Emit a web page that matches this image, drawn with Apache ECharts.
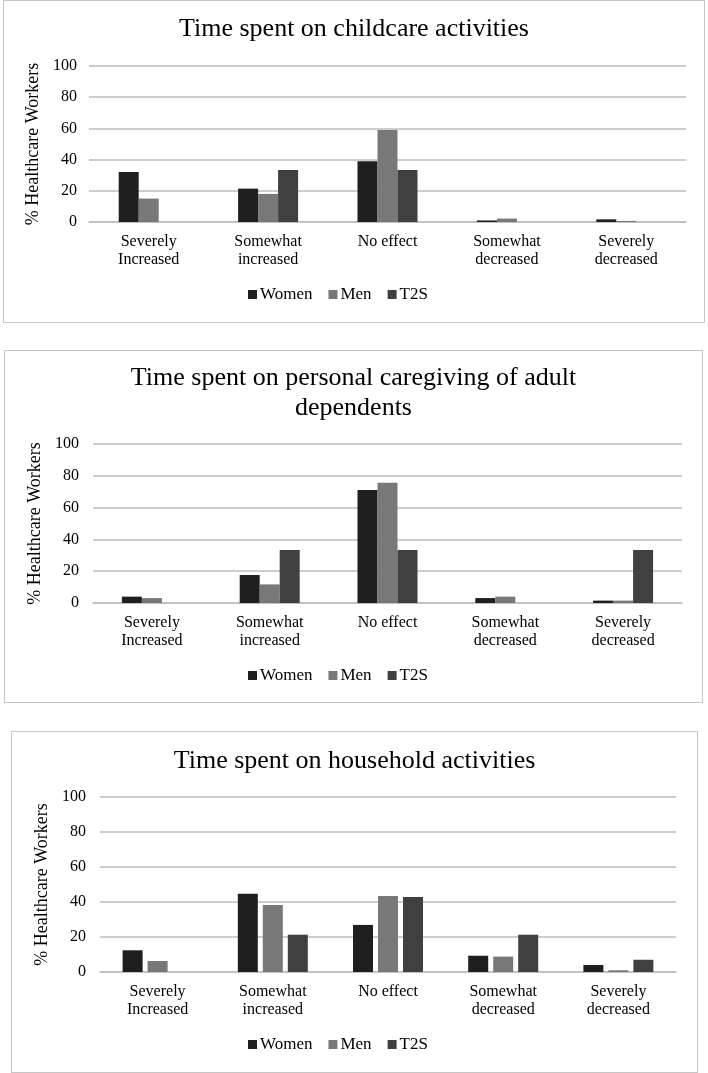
<!DOCTYPE html>
<html>
<head>
<meta charset="utf-8">
<script src="https://cdn.jsdelivr.net/npm/echarts@6/dist/echarts.min.js"></script>
<style>
  html, body { margin: 0; padding: 0; background: #fff; }
  body { width: 708px; height: 1073px; position: relative; overflow: hidden; }
  .box { position: absolute; border: 1px solid #c6c6c6; box-sizing: border-box; }
  .chart { position: absolute; left: 0; top: 0; width: 100%; height: 100%; }
</style>
</head>
<body>
<div class="box" id="b1" style="left:3px; top:0px; width:702px; height:323px;"><div class="chart" id="c1"></div></div>
<div class="box" id="b2" style="left:4px; top:350px; width:699px; height:353px;"><div class="chart" id="c2"></div></div>
<div class="box" id="b3" style="left:11px; top:731px; width:687px; height:342px;"><div class="chart" id="c3"></div></div>
<script>
// ---- data ----
const categories = ['Severely\nIncreased', 'Somewhat\nincreased', 'No effect', 'Somewhat\ndecreased', 'Severely\ndecreased'];
const seriesNames = ['Women', 'Men', 'T2S'];
const yTicks = { min: 0, max: 100, interval: 20 };
const yAxisTitle = '% Healthcare Workers';

const childcareTitle = 'Time spent on childcare activities';
const childcareWomen = [32, 21.4, 39, 1, 1.7];
const childcareMen   = [15, 18, 59, 2.2, 0.7];
const childcareT2S   = [0, 33.3, 33.3, 0, 0];

const caregivingTitle = 'Time spent on personal caregiving of adult\ndependents';
const caregivingWomen = [4, 17.6, 71, 3.1, 1.5];
const caregivingMen   = [3.1, 11.7, 75.7, 4, 1.5];
const caregivingT2S   = [0, 33.3, 33.3, 0, 33.3];

const householdTitle = 'Time spent on household activities';
const householdWomen = [12.4, 44.7, 26.9, 9.3, 4];
const householdMen   = [6.3, 38.3, 43.4, 8.8, 1];
const householdT2S   = [0, 21.3, 42.9, 21.3, 7];

// ---- styles ----
const FONT = '"Liberation Serif", "Times New Roman", serif';
const colors = ['#1f1f1f', '#787878', '#404040'];

function makeOption(cfg) {
  const values = cfg.values;
  return {
    animation: false,
    textStyle: { fontFamily: FONT },
    title: {
      text: cfg.title, left: 'center', top: cfg.titleTop, padding: 0,
      textStyle: { fontFamily: FONT, fontSize: 26, fontWeight: 'normal', color: '#000', lineHeight: 30 }
    },
    legend: {
      data: seriesNames, left: cfg.legendLeft, top: cfg.legendTop, padding: 0,
      icon: 'rect', itemWidth: 9, itemHeight: 9, itemGap: 16,
      textStyle: { fontFamily: FONT, fontSize: 17, color: '#000', padding: [0, 0, 0, -2] }
    },
    grid: { left: cfg.grid[0], top: cfg.grid[1], width: cfg.grid[2], height: cfg.grid[3], containLabel: false },
    xAxis: {
      type: 'category', data: categories,
      axisLine: { lineStyle: { color: '#bdbdbd', width: 1.5 } },
      axisTick: { show: false },
      axisLabel: { interval: 0, fontFamily: FONT, fontSize: 16, color: '#000', lineHeight: 18, margin: 11 }
    },
    yAxis: {
      type: 'value', min: yTicks.min, max: yTicks.max, interval: yTicks.interval,
      name: yAxisTitle, nameLocation: 'middle', nameGap: cfg.nameGap, nameRotate: 90,
      nameTextStyle: { fontFamily: FONT, fontSize: 18, color: '#000' },
      axisLine: { show: false }, axisTick: { show: false },
      axisLabel: { fontFamily: FONT, fontSize: 16, color: '#000', margin: cfg.labelMargin },
      splitLine: { lineStyle: { color: '#bdbdbd', width: 1.5 } }
    },
    series: seriesNames.map((n, i) => ({
      name: n, type: 'bar', data: values[i],
      barWidth: 20, barGap: cfg.barGap,
      itemStyle: { color: colors[i] }
    }))
  };
}

const c1 = echarts.init(document.getElementById('c1'), null, { renderer: 'canvas' });
c1.setOption(makeOption({
  title: childcareTitle, titleTop: 13,
  values: [childcareWomen, childcareMen, childcareT2S],
  grid: [85, 65, 597, 156], legendLeft: 244, legendTop: 285,
  nameGap: 42, labelMargin: 12, barGap: '0%'
}));

const c2 = echarts.init(document.getElementById('c2'), null, { renderer: 'canvas' });
c2.setOption(makeOption({
  title: caregivingTitle, titleTop: 12,
  values: [caregivingWomen, caregivingMen, caregivingT2S],
  grid: [88, 93, 589, 159], legendLeft: 243, legendTop: 316,
  nameGap: 42, labelMargin: 14, barGap: '0%'
}));

const c3 = echarts.init(document.getElementById('c3'), null, { renderer: 'canvas' });
c3.setOption(makeOption({
  title: householdTitle, titleTop: 14,
  values: [householdWomen, householdMen, householdT2S],
  grid: [88, 65, 576, 175], legendLeft: 236, legendTop: 304,
  nameGap: 44, labelMargin: 14, barGap: '25%'
}));
</script>
</body>
</html>
